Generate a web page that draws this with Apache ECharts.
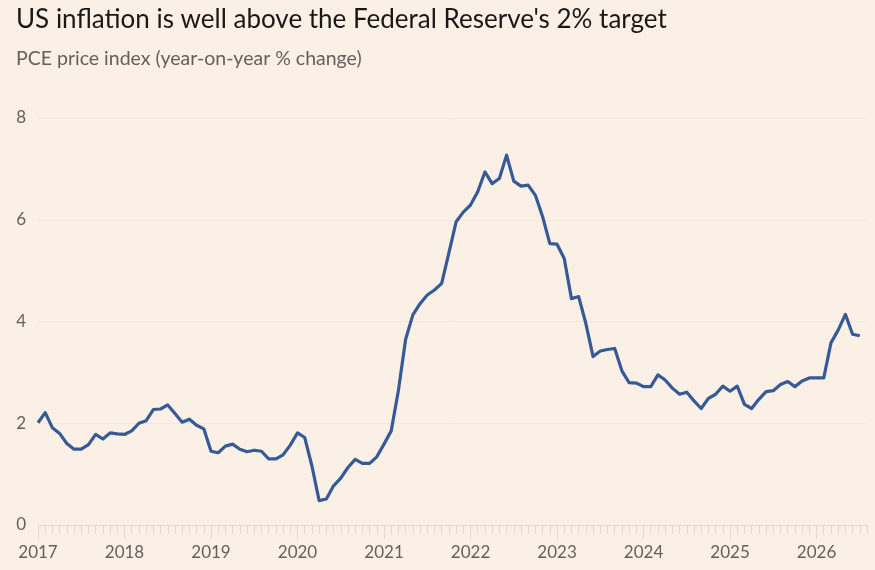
<!DOCTYPE html>
<html>
<head>
<meta charset="utf-8">
<style>
  html, body { margin: 0; padding: 0; background: #fbf0e6; }
  #chart { width: 875px; height: 570px; }
</style>
<script src="https://cdn.jsdelivr.net/npm/echarts@6/dist/echarts.min.js"></script>
</head>
<body>
<div id="chart"></div>
<script>
// PCE price index, year-on-year % change, monthly from Jan 2017
var years = [2017, 2018, 2019, 2020, 2021, 2022, 2023, 2024, 2025, 2026];
var pce2017 = [2.01, 2.21, 1.91, 1.80, 1.60, 1.49, 1.49, 1.58, 1.78, 1.69, 1.81, 1.79];
var pce2018 = [1.78, 1.85, 2.00, 2.05, 2.27, 2.28, 2.36, 2.19, 2.02, 2.08, 1.96, 1.89];
var pce2019 = [1.45, 1.42, 1.55, 1.59, 1.49, 1.44, 1.47, 1.45, 1.30, 1.30, 1.38, 1.57];
var pce2020 = [1.81, 1.72, 1.16, 0.48, 0.51, 0.77, 0.92, 1.13, 1.29, 1.21, 1.21, 1.34];
var pce2021 = [1.59, 1.85, 2.65, 3.65, 4.13, 4.35, 4.52, 4.62, 4.75, 5.35, 5.96, 6.15];
var pce2022 = [6.29, 6.55, 6.94, 6.71, 6.81, 7.27, 6.76, 6.66, 6.68, 6.48, 6.06, 5.53];
var pce2023 = [5.52, 5.24, 4.45, 4.49, 3.96, 3.31, 3.42, 3.45, 3.47, 3.03, 2.80, 2.79];
var pce2024 = [2.72, 2.72, 2.95, 2.85, 2.69, 2.57, 2.61, 2.44, 2.29, 2.49, 2.57, 2.73];
var pce2025 = [2.63, 2.73, 2.37, 2.29, 2.47, 2.62, 2.64, 2.76, 2.82, 2.72, 2.83, 2.89];
var pce2026 = [2.89, 2.89, 3.58, 3.83, 4.14, 3.75, 3.72];
var yTicks = [0, 2, 4, 6, 8];

var values = [].concat(pce2017, pce2018, pce2019, pce2020, pce2021,
  pce2022, pce2023, pce2024, pce2025, pce2026);

// one category per month; one spare month after the last reading so the axis runs on a little
var months = [];
years.forEach(function (y) {
  for (var m = 1; m <= 12; m++) months.push(y + '-' + (m < 10 ? '0' : '') + m);
});
months = months.slice(0, values.length + 1);

function isJan(i) { return months[i].slice(5) === '01'; }

var font = 'Lato, "Noto Sans", sans-serif';
var tickColor = '#e5d9ce';

var chart = echarts.init(document.getElementById('chart'), null, { renderer: 'canvas' });
chart.setOption({
  backgroundColor: '#fbf0e6',
  animation: false,
  title: [{
    text: "US inflation is well above the Federal Reserve's 2% target",
    left: 11, top: 2,
    textStyle: { fontFamily: font, fontSize: 26, fontWeight: 'normal', color: '#1a1817' }
  }, {
    text: 'PCE price index (year-on-year % change)',
    left: 11, top: 44,
    textStyle: { fontFamily: font, fontSize: 19.5, fontWeight: 'normal', color: '#66605c' }
  }],
  grid: { left: 38, right: 8, top: 118, bottom: 45, containLabel: false },
  xAxis: [{
    type: 'category',
    data: months,
    boundaryGap: false,
    axisLine: { lineStyle: { color: tickColor, width: 1 } },
    axisTick: { interval: 0, length: 9, lineStyle: { color: tickColor } },
    axisLabel: {
      interval: function (i) { return isJan(i); },
      formatter: function (v) { return v.slice(0, 4); },
      fontFamily: font, fontSize: 17, color: '#66605c', margin: 19
    },
    splitLine: { show: false }
  }, {
    type: 'category',
    data: months,
    position: 'bottom',
    boundaryGap: false,
    axisLine: { show: false },
    axisTick: { interval: function (i) { return isJan(i); }, length: 14, lineStyle: { color: tickColor } },
    axisLabel: { show: false }
  }],
  yAxis: {
    type: 'value',
    min: yTicks[0], max: yTicks[yTicks.length - 1], interval: 2,
    axisLine: { show: false },
    axisTick: { show: false },
    axisLabel: { fontFamily: font, fontSize: 17, color: '#66605c', margin: 12 },
    splitLine: { lineStyle: { color: '#f3e6da', width: 1 } }
  },
  series: [{
    type: 'line',
    xAxisIndex: 0,
    data: values,
    symbol: 'none',
    lineStyle: { color: '#365a96', width: 3.2, join: 'round' },
    z: 3
  }]
});
</script>
</body>
</html>
